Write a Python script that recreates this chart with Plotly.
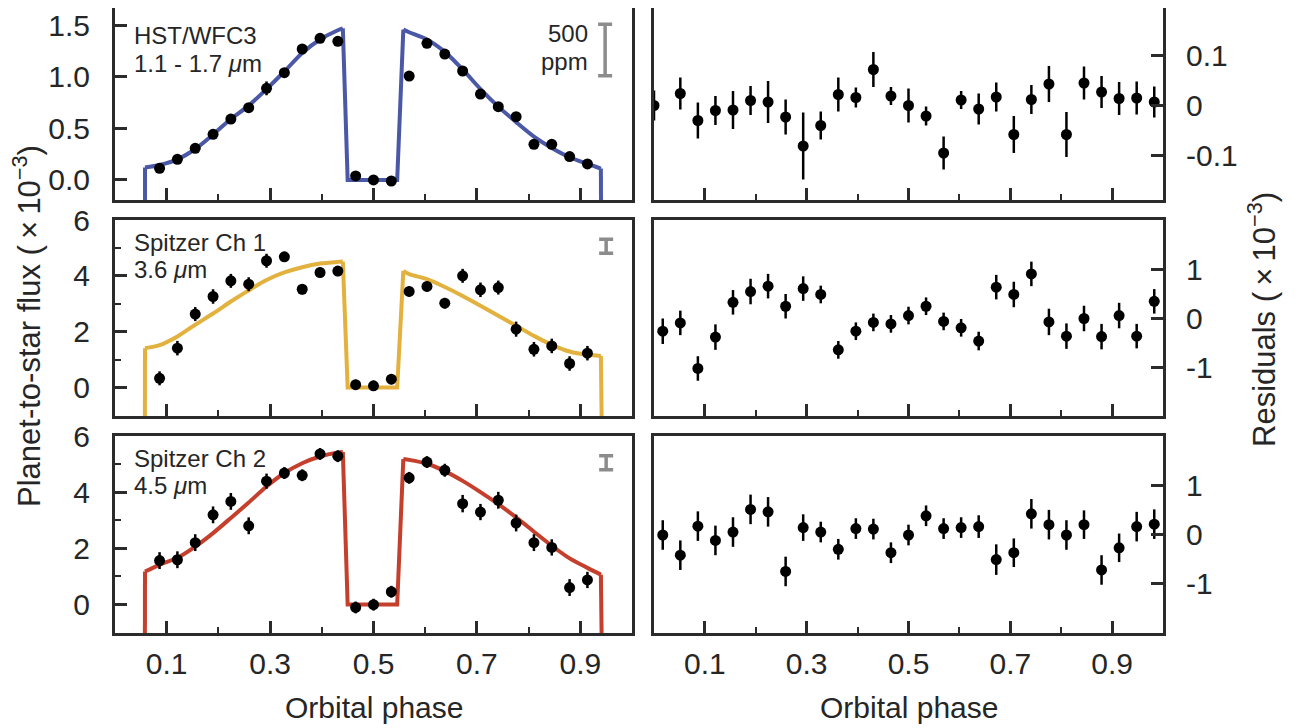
import plotly.graph_objects as go
from plotly.subplots import make_subplots

# ---------------- data ----------------
phase = [0.0172, 0.0517, 0.0862, 0.1207, 0.1552, 0.1897, 0.2241, 0.2586, 0.2931, 0.3276,
         0.3621, 0.3966, 0.4310, 0.4655, 0.5000, 0.5345, 0.5690, 0.6034, 0.6379, 0.6724,
         0.7069, 0.7414, 0.7759, 0.8103, 0.8448, 0.8793, 0.9138, 0.9483, 0.9828]
hst_res_phase = [0.0000, 0.0517, 0.0862, 0.1207, 0.1552, 0.1897, 0.2241, 0.2586, 0.2931, 0.3276,
                 0.3621, 0.3966, 0.4310, 0.4655, 0.5000, 0.5345, 0.5690, 0.6034, 0.6379, 0.6724,
                 0.7069, 0.7414, 0.7759, 0.8103, 0.8448, 0.8793, 0.9138, 0.9483, 0.9828]
flux_phase = [0.0862, 0.1207, 0.1552, 0.1897, 0.2241, 0.2586, 0.2931, 0.3276, 0.3621, 0.3966,
              0.4310, 0.4655, 0.5000, 0.5345, 0.5690, 0.6034, 0.6379, 0.6724, 0.7069, 0.7414,
              0.7759, 0.8103, 0.8448, 0.8793, 0.9138]

hst_flux = [0.113, 0.200, 0.306, 0.442, 0.590, 0.700, 0.887, 1.039, 1.268, 1.371, 1.342, 0.039,
            0.000, -0.010, 1.006, 1.323, 1.219, 1.055, 0.832, 0.710, 0.613, 0.345, 0.345, 0.226, 0.155]
ch1_flux = [0.33, 1.41, 2.63, 3.26, 3.82, 3.70, 4.54, 4.68, 3.52, 4.12, 4.17, 0.10,
            0.06, 0.30, 3.44, 3.62, 3.02, 4.00, 3.50, 3.58, 2.09, 1.37, 1.49, 0.86, 1.23]
ch2_flux = [1.56, 1.59, 2.20, 3.19, 3.67, 2.80, 4.39, 4.68, 4.60, 5.36, 5.28, -0.11,
            -0.01, 0.45, 4.51, 5.07, 4.78, 3.59, 3.29, 3.71, 2.90, 2.20, 2.03, 0.60, 0.87]

hst_res = [0.000, 0.024, -0.030, -0.010, -0.009, 0.010, 0.007, -0.023, -0.081, -0.040,
           0.022, 0.016, 0.072, 0.019, 0.000, -0.021, -0.095, 0.011, -0.007, 0.017,
           -0.058, 0.012, 0.043, -0.058, 0.045, 0.027, 0.014, 0.015, 0.007]
hst_err = [0.030, 0.032, 0.036, 0.029, 0.038, 0.029, 0.042, 0.035, 0.067, 0.028,
           0.034, 0.020, 0.035, 0.018, 0.034, 0.019, 0.033, 0.018, 0.031, 0.029,
           0.037, 0.029, 0.036, 0.045, 0.033, 0.032, 0.033, 0.033, 0.031]
ch1_res = [-0.27, -0.10, -1.03, -0.39, 0.32, 0.54, 0.65, 0.24, 0.60, 0.48,
           -0.65, -0.27, -0.09, -0.12, 0.05, 0.24, -0.07, -0.20, -0.47, 0.63,
           0.48, 0.90, -0.08, -0.37, -0.01, -0.38, 0.05, -0.37, 0.34]
ch1_err = [0.26, 0.25, 0.25, 0.26, 0.25, 0.26, 0.25, 0.25, 0.25, 0.18,
           0.18, 0.18, 0.18, 0.18, 0.18, 0.18, 0.18, 0.18, 0.19, 0.25,
           0.26, 0.25, 0.27, 0.26, 0.26, 0.26, 0.26, 0.25, 0.25]
ch2_res = [-0.01, -0.42, 0.17, -0.12, 0.05, 0.51, 0.46, -0.75, 0.14, 0.05,
           -0.30, 0.12, 0.11, -0.37, -0.01, 0.38, 0.12, 0.14, 0.16, -0.51,
           -0.37, 0.42, 0.20, -0.01, 0.20, -0.72, -0.27, 0.16, 0.21]
ch2_err = [0.30, 0.30, 0.30, 0.30, 0.30, 0.30, 0.30, 0.30, 0.27, 0.21,
           0.21, 0.21, 0.21, 0.21, 0.21, 0.21, 0.21, 0.21, 0.23, 0.31,
           0.29, 0.30, 0.30, 0.30, 0.29, 0.30, 0.29, 0.30, 0.30]

model_phase = [0.0575, 0.0580, 0.0862, 0.1207, 0.1552, 0.1897, 0.2241, 0.2586, 0.2931, 0.3276,
               0.3621, 0.3966, 0.4310, 0.4407, 0.4500, 0.5458, 0.5577, 0.5690, 0.6034, 0.6379,
               0.6724, 0.7069, 0.7414, 0.7759, 0.8103, 0.8448, 0.8793, 0.9138, 0.9398, 0.9438]
hst_model = [-5, 0.12, 0.145, 0.20, 0.30, 0.44, 0.59, 0.72, 0.88, 1.05, 1.23, 1.36, 1.45, 1.468,
             0.0, 0.0, 1.455, 1.43, 1.36, 1.24, 1.07, 0.88, 0.71, 0.56, 0.42, 0.31, 0.22, 0.155, 0.11, -5]
ch1_model = [-5, 1.41, 1.52, 1.83, 2.25, 2.65, 3.08, 3.48, 3.85, 4.12, 4.31, 4.44, 4.50, 4.51,
             0.0, 0.0, 4.18, 4.06, 3.88, 3.60, 3.28, 2.93, 2.57, 2.21, 1.85, 1.53, 1.29, 1.17, 1.13, -5]
ch2_model = [-5, 1.17, 1.41, 1.66, 2.06, 2.54, 3.08, 3.63, 4.20, 4.68, 5.03, 5.27, 5.41, 5.43,
             0.0, 0.0, 5.18, 5.15, 5.01, 4.75, 4.40, 4.00, 3.57, 3.10, 2.59, 2.09, 1.64, 1.30, 1.06, -5]

# 500 ppm scale bars (center, half-length) per panel
scale_x = [0.948, 0.950, 0.950]
scale_y = [1.258, 5.06, 5.05]
scale_half = [0.25, 0.25, 0.25]

labels1 = ["HST/WFC3", "Spitzer Ch 1", "Spitzer Ch 2"]
labels2 = ["1.1 - 1.7 <i>μ</i>m", "3.6 <i>μ</i>m", "4.5 <i>μ</i>m"]
model_colors = ["#4b58a6", "#e2b13e", "#c43f2c"]

# ---------------- figure ----------------
FONT = "Liberation Sans, Arial, Helvetica, sans-serif"
TXT = "#262626"
FRAME = "#2b2b2b"

# the page body adds an 8 px offset; figure coords = screen coords - 8
OFF = 8
W, H = 1297 - OFF, 728 - OFF
L, R, T, B = 115 - OFF, 1297 - OFF - (1163 - OFF), 0, 95
PW, PH = W - L - R, H - T - B


def sx(px):
    return (px - OFF - L) / PW


def sy(py):
    return 1 - (py - OFF - T) / PH


fig = make_subplots(rows=3, cols=2)

fluxes = [hst_flux, ch1_flux, ch2_flux]
models = [hst_model, ch1_model, ch2_model]
resids = [hst_res, ch1_res, ch2_res]
errs = [hst_err, ch1_err, ch2_err]
res_phases = [hst_res_phase, phase, phase]

# model pieces: sharp (linear) edges and smooth (spline) arcs
segments = [(0, 2, "linear"), (1, 14, "spline"), (13, 17, "linear"),
            (16, 29, "spline"), (28, 30, "linear")]

for i in range(3):
    r = i + 1
    for a, b, shape in segments:
        fig.add_trace(go.Scatter(x=model_phase[a:b], y=models[i][a:b], mode="lines",
                                 line=dict(color=model_colors[i], width=4, shape=shape,
                                           smoothing=0.8),
                                 hoverinfo="skip", showlegend=False), row=r, col=1)
    fig.add_trace(go.Scatter(x=flux_phase, y=fluxes[i], mode="markers",
                             marker=dict(color="black", size=11),
                             error_y=dict(type="data", array=errs[i][2:27], color="black",
                                          thickness=2.5, width=0),
                             showlegend=False), row=r, col=1)
    fig.add_trace(go.Scatter(x=[scale_x[i]], y=[scale_y[i]], mode="markers",
                             marker=dict(size=1, color="rgba(0,0,0,0)"),
                             error_y=dict(type="data", array=[scale_half[i]], color="#8c8c8c",
                                          thickness=3.5, width=7),
                             showlegend=False, hoverinfo="skip"), row=r, col=1)
    fig.add_hline(y=0, line=dict(color="#8f8f8f", width=2.5), layer="below", row=r, col=2)
    fig.add_trace(go.Scatter(x=res_phases[i], y=resids[i], mode="markers",
                             marker=dict(color="black", size=11),
                             error_y=dict(type="data", array=errs[i], color="black",
                                          thickness=2.5, width=0),
                             showlegend=False), row=r, col=2)

xdom_left = [0.0, sx(632)]
xdom_right = [sx(654), 1.0]
ydoms = [[sy(200), 1.0], [sy(416), sy(220)], [0.0, sy(436)]]

common_axis = dict(showline=True, mirror=True, linewidth=3, linecolor=FRAME,
                   showgrid=False, zeroline=False, ticks="inside", tickwidth=3,
                   ticklen=12, tickcolor=FRAME, automargin=False,
                   tickfont=dict(family=FONT, size=30, color=TXT))

for i in range(3):
    r = i + 1
    for c, dom in ((1, xdom_left), (2, xdom_right)):
        idx = (r - 1) * 2 + c
        xa = "xaxis" if idx == 1 else f"xaxis{idx}"
        fig.layout[xa].update(domain=dom, range=[0, 1],
                              tickvals=[0.1, 0.3, 0.5, 0.7, 0.9],
                              ticktext=["0.1", "0.3", "0.5", "0.7", "0.9"],
                              showticklabels=(r == 3), ticklabelstandoff=2,
                              minor=dict(tickvals=[0.2, 0.4, 0.6, 0.8], ticks="inside",
                                         ticklen=6, tickwidth=2, tickcolor=FRAME),
                              **common_axis)
    idx = (r - 1) * 2 + 1
    ya = "yaxis" if idx == 1 else f"yaxis{idx}"
    if r == 1:
        fig.layout[ya].update(domain=ydoms[i], range=[-0.194, 1.665],
                              tickvals=[0, 0.5, 1.0, 1.5],
                              ticktext=["0.0", "0.5", "1.0", "1.5"],
                              ticklabelstandoff=16, **common_axis)
    else:
        fig.layout[ya].update(domain=ydoms[i], range=[-1.02, 6.0],
                              tickvals=[0, 2, 4, 6], ticktext=["0", "2", "4", "6"],
                              minor=dict(tickvals=[1, 3, 5], ticks="inside",
                                         ticklen=6, tickwidth=2, tickcolor=FRAME),
                              ticklabelstandoff=16, **common_axis)
    idx = (r - 1) * 2 + 2
    ya = f"yaxis{idx}"
    if r == 1:
        fig.layout[ya].update(domain=ydoms[i], range=[-0.189, 0.195], side="right",
                              tickvals=[-0.1, 0, 0.1], ticktext=["-0.1", "0", "0.1"],
                              ticklabelstandoff=14, **common_axis)
    else:
        fig.layout[ya].update(domain=ydoms[i], range=[-2.0, 2.0], side="right",
                              tickvals=[-1, 0, 1], ticktext=["-1", "0", "1"],
                              ticklabelstandoff=14, **common_axis)

ann = []
label_y1 = [1.394, 5.21, 5.21]
label_y2 = [1.123, 4.24, 4.24]
for i in range(3):
    idx = i * 2 + 1
    xr = "x" if idx == 1 else f"x{idx}"
    yr = "y" if idx == 1 else f"y{idx}"
    ann.append(dict(x=0.033, y=label_y1[i], xref=xr, yref=yr, text=labels1[i],
                    showarrow=False, xanchor="left", yanchor="middle",
                    font=dict(family=FONT, size=24, color=TXT)))
    ann.append(dict(x=0.033, y=label_y2[i], xref=xr, yref=yr, text=labels2[i],
                    showarrow=False, xanchor="left", yanchor="middle",
                    font=dict(family=FONT, size=24, color=TXT)))
ann.append(dict(x=0.919, y=1.42, xref="x", yref="y", text="500", showarrow=False,
                xanchor="right", yanchor="middle", font=dict(family=FONT, size=24, color=TXT)))
ann.append(dict(x=0.919, y=1.15, xref="x", yref="y", text="ppm", showarrow=False,
                xanchor="right", yanchor="middle", font=dict(family=FONT, size=24, color=TXT)))

ann.append(dict(x=sx(373.5), y=sy(707), xref="paper", yref="paper",
                text="Orbital phase", showarrow=False, xanchor="center", yanchor="middle",
                font=dict(family=FONT, size=30, color=TXT)))
ann.append(dict(x=sx(908.5), y=sy(707), xref="paper", yref="paper",
                text="Orbital phase", showarrow=False, xanchor="center", yanchor="middle",
                font=dict(family=FONT, size=30, color=TXT)))
ann.append(dict(x=sx(27), y=sy(326), xref="paper", yref="paper",
                text="Planet-to-star flux (\u2009×\u200910<sup>−3</sup>)", showarrow=False,
                textangle=-90, xanchor="center", yanchor="middle",
                font=dict(family=FONT, size=31, color=TXT)))
ann.append(dict(x=sx(1262), y=sy(320), xref="paper", yref="paper",
                text="Residuals (\u2009×\u200910<sup>−3</sup>)", showarrow=False,
                textangle=-90, xanchor="center", yanchor="middle",
                font=dict(family=FONT, size=31, color=TXT)))

fig.update_layout(width=W, height=H, margin=dict(l=L, r=R, t=T, b=B, pad=0, autoexpand=False),
                  plot_bgcolor="white", paper_bgcolor="white",
                  annotations=ann, showlegend=False,
                  font=dict(family=FONT, color=TXT))

fig.write_html("out.html")
